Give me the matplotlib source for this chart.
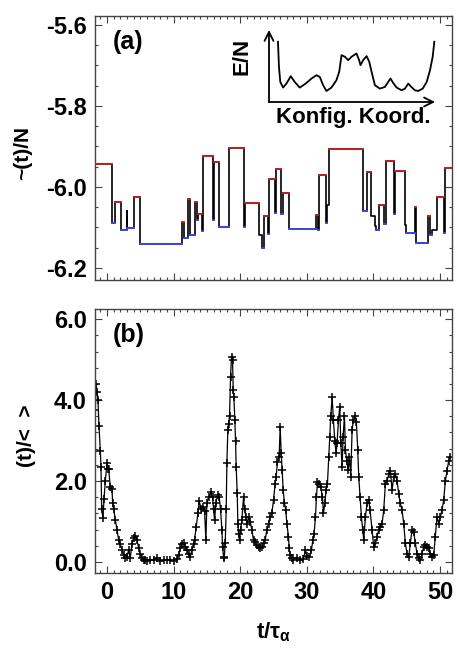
import numpy as np
import matplotlib
matplotlib.use('Agg')
import matplotlib.pyplot as plt
from matplotlib.ticker import MultipleLocator

plt.rcParams['font.family'] = ['Liberation Sans', 'DejaVu Sans']
plt.rcParams['font.weight'] = 'bold'
plt.rcParams['mathtext.fontset'] = 'custom'
plt.rcParams['mathtext.rm'] = 'Liberation Sans:bold'
plt.rcParams['mathtext.it'] = 'Liberation Sans:bold'
plt.rcParams['mathtext.bf'] = 'Liberation Sans:bold'

# (a) energy step trajectory: start time of each plateau and its level
step_t = [-1.8, 0.7, 1.2, 2.1, 2.95, 3.05, 4.05, 4.9, 11.2, 11.55, 12.2, 12.45,
          13.2, 13.55, 13.7, 14.2, 14.35, 15.85, 16.0, 16.8, 18.25, 20.5, 20.75,
          22.8, 23.3, 23.55, 24.1, 24.35, 25.3, 25.45, 26.2, 26.45, 27.3, 31.4,
          31.75, 31.9, 32.9, 33.1, 33.3, 38.5, 39.0, 39.6, 40.2, 40.45, 40.8,
          41.6, 41.95, 43.05, 43.2, 44.7, 44.95, 46.2, 46.45, 48.2, 48.5, 48.8,
          49.6, 50.55, 50.75]
step_e = [-5.944, -6.088, -6.037, -6.106, -6.059, -6.102, -6.026, -6.140, -6.087,
          -6.127, -6.030, -6.118, -6.037, -6.081, -6.067, -6.110, -5.923, -6.081,
          -5.938, -6.098, -5.903, -6.098, -6.039, -6.118, -6.150, -6.073, -6.116,
          -5.981, -6.064, -5.956, -6.067, -6.016, -6.104, -6.070, -6.106, -5.970,
          -6.089, -6.045, -5.907, -6.059, -5.964, -6.073, -6.097, -6.106, -6.045,
          -6.092, -5.935, -6.066, -5.962, -6.094, -6.115, -6.050, -6.139, -6.073,
          -6.118, -6.107, -6.025, -6.114, -5.953]
t_end = 51.8

# (b) ratio time series
b_t = [-1.75, -1.65, -1.5, -1.35, -1.2, -1.0, -0.9, -0.8, -0.6, -0.45, -0.25, 0.0,
       0.1, 0.25, 0.5, 0.75, 0.85, 1.0, 1.25, 1.5, 1.75, 2.0, 2.25, 2.5, 2.75, 3.0,
       3.25, 3.5, 3.75, 4.0, 4.25, 4.5, 4.75, 5.0, 5.25, 5.5, 5.75, 6.0, 6.5, 7.0,
       7.5, 8.0, 8.5, 9.0, 9.5, 10.0, 10.5, 10.75, 11.0, 11.25, 11.5, 11.75, 12.0,
       12.25, 12.5, 12.75, 13.0, 13.15, 13.4, 13.65, 13.85, 14.15, 14.4, 14.65,
       14.85, 15.0, 15.25, 15.65, 15.85, 16.0, 16.15, 16.35, 16.6, 16.85, 17.05,
       17.25, 17.35, 17.5, 17.6, 17.75, 17.9, 18.0, 18.15, 18.25, 18.4, 18.55,
       18.7, 18.85, 18.95, 19.05, 19.2, 19.3, 19.4, 19.55, 19.65, 19.75, 19.9,
       20.05, 20.25, 20.5, 20.65, 20.85, 21.05, 21.25, 21.5, 21.75, 22.0, 22.25,
       22.5, 22.75, 23.0, 23.25, 23.5, 23.75, 24.0, 24.25, 24.5, 24.75, 25.0,
       25.25, 25.4, 25.6, 25.85, 26.0, 26.15, 26.3, 26.45, 26.65, 26.85, 27.0,
       27.25, 27.35, 27.5, 27.75, 28.0, 28.5, 29.0, 29.5, 29.8, 30.0, 30.4, 30.7,
       30.9, 31.1, 31.3, 31.45, 31.6, 31.9, 32.1, 32.35, 32.5, 32.7, 32.9, 33.1,
       33.3, 33.45, 33.6, 33.8, 34.0, 34.2, 34.4, 34.55, 34.75, 34.95, 35.1, 35.3,
       35.45, 35.65, 35.8, 36.0, 36.2, 36.4, 36.6, 36.8, 37.0, 37.3, 37.45, 37.65,
       37.8, 38.0, 38.2, 38.4, 38.55, 38.8, 39.05, 39.3, 39.5, 39.8, 40.05, 40.3,
       40.55, 40.8, 41.05, 41.3, 41.55, 41.8, 42.05, 42.3, 42.55, 42.8, 43.05,
       43.3, 43.55, 43.8, 44.05, 44.3, 44.55, 44.8, 45.05, 45.3, 45.55, 45.8,
       46.05, 46.3, 46.55, 46.8, 47.05, 47.3, 47.55, 47.8, 48.05, 48.3, 48.55,
       48.8, 49.05, 49.3, 49.55, 49.8, 50.05, 50.3, 50.55, 50.8, 51.05, 51.3, 51.55]
b_y = [3.75, 4.4, 4.2, 4.0, 3.35, 2.75, 2.35, 1.3, 1.1, 1.55, 2.0, 2.45,
       2.3, 2.3, 1.85, 1.8, 1.45, 1.3, 1.05, 0.8, 0.55, 0.45, 0.3, 0.17, 0.1, 0.13,
       0.3, 0.1, 0.45, 0.6, 0.65, 0.55, 0.35, 0.2, 0.1, 0.05, 0.05, 0.03, 0.06, 0.04,
       0.1, 0.03, 0.05, 0.04, 0.06, 0.03, 0.08, 0.17, 0.35, 0.45, 0.46, 0.38, 0.3,
       0.2, 0.13, 0.3, 0.45, 0.55, 0.87, 1.2, 1.5, 1.3, 1.37, 1.25,
       0.54, 1.45, 1.6, 1.74, 1.6, 1.3, 1.04, 1.45, 1.65, 1.6, 1.3,
       0.8, 0.38, 0.13, 0.1, 0.46, 1.3, 2.45, 3.26, 3.42, 3.6, 4.58,
       5.07, 5.0, 4.25, 4.08, 3.5, 3.0, 2.35, 1.7, 0.95, 0.7, 0.54,
       0.8, 1.04, 1.6, 1.3, 1.12, 0.95, 1.12, 1.0, 0.8, 0.54, 0.5,
       0.42, 0.38, 0.34, 0.36, 0.46, 0.54, 0.8, 0.95, 1.12, 1.2, 1.53,
       1.94, 2.1, 2.48, 2.6, 3.34, 2.7, 2.27, 1.78, 1.45, 1.28, 0.95,
       0.63, 0.34, 0.17, 0.09, 0.06, 0.1, 0.05, 0.08, 0.3, 0.15, 0.12, 0.3,
       0.54, 0.7, 1.12, 1.6, 1.98, 1.94, 1.86, 1.6, 1.2, 1.45, 1.78, 1.94,
       2.6, 3.1, 3.6, 4.08, 3.5, 3.0, 2.7, 2.95, 3.5, 3.84, 2.95, 2.35,
       3.1, 3.6, 2.77, 2.5, 2.27, 2.6, 2.1, 3.26, 3.5, 3.6, 3.45, 2.77,
       2.1, 1.6, 1.12, 0.8, 0.54, 1.12, 1.45, 1.53, 1.28, 0.8, 0.38, 0.46,
       0.63, 0.8, 0.87, 0.95, 1.28, 1.94, 2.0, 2.17, 2.25, 1.78, 2.1,
       2.17, 2.0, 1.69, 1.45, 1.28, 0.95, 0.46, 0.21, 0.13, 0.46, 0.8,
       0.75, 0.46, 0.21, 0.09, 0.05, 0.21, 0.38, 0.42, 0.38, 0.34, 0.21,
       0.13, 0.17, 0.63, 1.12, 0.95, 1.12, 1.28, 1.53, 2.0, 2.25, 2.5, 2.6]

# inset sketch of the energy landscape (fractions of the arrow frame)
inset_q = [0.054, 0.060, 0.068, 0.085, 0.105, 0.131, 0.155, 0.185, 0.221, 0.256,
           0.286, 0.306, 0.326, 0.346, 0.376, 0.406, 0.423, 0.437, 0.457, 0.477,
           0.497, 0.527, 0.543, 0.551, 0.567, 0.588, 0.604, 0.618, 0.638, 0.668,
           0.698, 0.718, 0.732, 0.748, 0.769, 0.799, 0.819, 0.839, 0.853, 0.879,
           0.899, 0.926, 0.950, 0.970, 0.986, 0.996]
inset_e = [0.837, 0.488, 0.279, 0.200, 0.256, 0.358, 0.279, 0.200, 0.256, 0.326,
           0.372, 0.349, 0.233, 0.153, 0.200, 0.302, 0.419, 0.651, 0.628, 0.581,
           0.628, 0.674, 0.581, 0.512, 0.581, 0.637, 0.558, 0.419, 0.233, 0.186,
           0.209, 0.279, 0.326, 0.265, 0.200, 0.163, 0.186, 0.256, 0.219, 0.163,
           0.153, 0.186, 0.279, 0.442, 0.628, 0.837]

W, H = 457, 648
fig = plt.figure(figsize=(W / 100, H / 100), dpi=100)
ax1 = fig.add_axes([95 / W, 1 - 280 / H, 357 / W, 264 / H])
ax2 = fig.add_axes([95 / W, 1 - 573 / H, 357 / W, 264 / H])

# step line
ends = step_t[1:] + [t_end]
xs, ys = [], []
for t0, t1, e in zip(step_t, ends, step_e):
    xs += [t0, t1]
    ys += [e, e]
ax1.plot(xs, ys, color='black', lw=1.2, zorder=2)

# colour the plateaus: red = local maximum, blue = local minimum
n = len(step_e)
for i in range(n):
    nb = []
    if i > 0:
        nb.append(step_e[i - 1])
    if i < n - 1:
        nb.append(step_e[i + 1])
    if all(step_e[i] > v for v in nb):
        c = '#cc1f1f'
    elif all(step_e[i] < v for v in nb):
        c = '#3a4cf0'
    else:
        continue
    ax1.plot([step_t[i], ends[i]], [step_e[i], step_e[i]], color=c, lw=1.3, zorder=3)

ax1.set_xlim(-1.8, 51.8)
ax1.set_ylim(-6.23, -5.578)
ax1.yaxis.set_minor_locator(MultipleLocator(0.05))
ax1.set_yticks([-5.6, -5.8, -6.0, -6.2])
ax1.set_yticklabels(['-5.6', '-5.8', '-6.0', '-6.2'])
ax1.set_ylabel('~(t)/N', fontsize=15, fontweight='bold')
ax1.yaxis.set_label_coords(-0.175, 0.48)
ax1.text(0.05, 0.90, '(a)', transform=ax1.transAxes, fontsize=18,
         fontweight='bold', va='center')

# (b)
ax2.plot(b_t, b_y, color='black', lw=0.9, marker='+', ms=6, mew=1.1)
ax2.set_xlim(-1.8, 51.8)
ax2.set_ylim(-0.27, 6.25)
ax2.set_yticks([0, 2, 4, 6])
ax2.set_yticklabels(['0.0', '2.0', '4.0', '6.0'])
ax2.yaxis.set_minor_locator(MultipleLocator(0.4))
ax2.set_ylabel('(t)/<  >', fontsize=15, fontweight='bold')
ax2.yaxis.set_label_coords(-0.165, 0.52)
ax2.set_xlabel(r'$t/\tau_{\alpha}$', fontsize=16)
ax2.xaxis.set_label_coords(0.5, -0.18)
ax2.text(0.05, 0.90, '(b)', transform=ax2.transAxes, fontsize=18,
         fontweight='bold', va='center')

for ax in (ax1, ax2):
    ax.set_xticks([0, 10, 20, 30, 40, 50])
    ax.xaxis.set_minor_locator(MultipleLocator(1))
    ax.tick_params(which='both', direction='in', top=True, right=True,
                   labelsize=17, width=0.8, color='#444444')
    ax.tick_params(which='major', length=5, pad=6)
    ax.tick_params(which='minor', length=2.5)
    for s in ax.spines.values():
        s.set_linewidth(1.0)
        s.set_color('#444444')
    for lab in ax.get_xticklabels() + ax.get_yticklabels():
        lab.set_fontweight('bold')
ax1.set_xticklabels([])

# inset arrows frame
axi = fig.add_axes([269 / W, 1 - 102 / H, 166 / W, 72 / H])
axi.set_xlim(0, 1)
axi.set_ylim(0, 1)
axi.axis('off')
axi.annotate('', xy=(0, 1), xytext=(0, 0), xycoords='axes fraction',
             arrowprops=dict(arrowstyle='->', lw=1.3, color='black',
                             mutation_scale=16, shrinkA=0, shrinkB=0))
axi.annotate('', xy=(1, 0), xytext=(0, 0), xycoords='axes fraction',
             arrowprops=dict(arrowstyle='->', lw=1.3, color='black',
                             mutation_scale=16, shrinkA=0, shrinkB=0))
axi.plot(inset_q, inset_e, color='black', lw=1.3, clip_on=False)
fig.text(242 / W, 1 - 56 / H, 'E/N', rotation=90, fontsize=16,
         fontweight='bold', ha='center', va='center')
fig.text(353 / W, 1 - 118 / H, 'Konfig. Koord.', fontsize=16,
         fontweight='bold', ha='center', va='center')

fig.savefig('out.png', dpi=100)
